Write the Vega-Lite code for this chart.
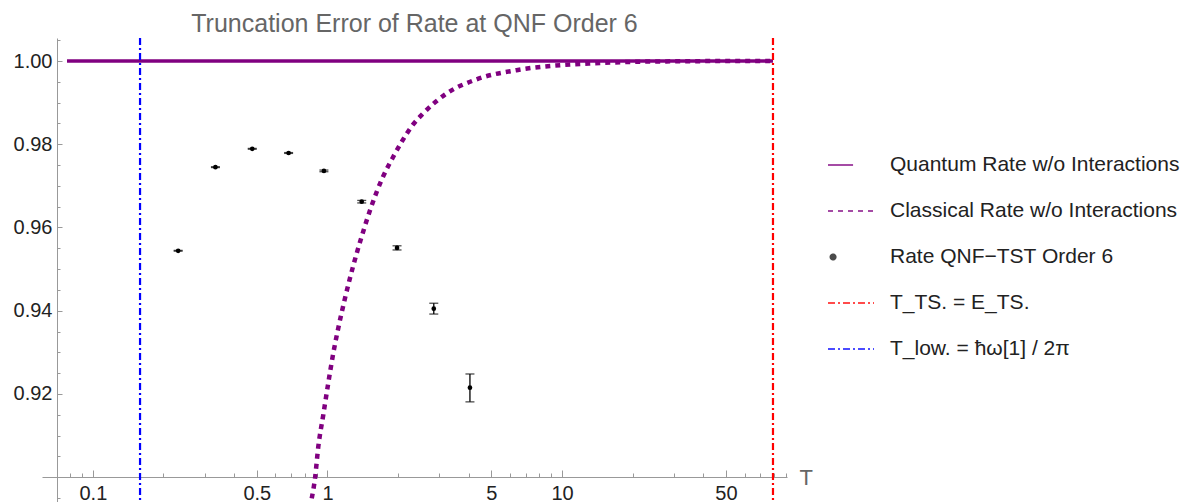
{
  "$schema": "https://vega.github.io/schema/vega-lite/v6.json",
  "width": 745,
  "height": 464,
  "autosize": "none",
  "padding": {"left": 42, "top": 38, "right": 395, "bottom": 0},
  "background": "white",
  "title": {"text": "Truncation Error of Rate at QNF Order 6", "fontSize": 25, "color": "#666666", "font": "Liberation Sans", "fontWeight": "normal", "anchor": "middle", "frame": "group", "offset": -20, "baseline": "alphabetic"},
  "config": {
    "font": "Liberation Sans",
    "view": {"stroke": null},
    "axis": {"grid": false, "domainColor": "#999999", "tickColor": "#999999", "labelColor": "#222222", "labelFont": "Liberation Sans", "labelFontSize": 20},
    "legend": {"orient": "none", "legendX": 785, "legendY": 103, "labelFontSize": 21, "labelFont": "Liberation Sans", "labelColor": "#222222", "symbolSize": 2116, "symbolStrokeWidth": 2, "labelOffset": 15, "rowPadding": 12, "symbolFillColor": "#000000", "labelLimit": 400, "padding": 0}
  },
  "data": {"values": [
    {"series": "Quantum Rate w/o Interactions", "T": 0.0776, "v": 1.0},
    {"series": "Quantum Rate w/o Interactions", "T": 79.3, "v": 1.0},
    {"series": "Classical Rate w/o Interactions", "T": 0.857, "v": 0.8949},
    {"series": "Classical Rate w/o Interactions", "T": 0.885, "v": 0.8997},
    {"series": "Classical Rate w/o Interactions", "T": 0.914, "v": 0.9073},
    {"series": "Classical Rate w/o Interactions", "T": 0.960, "v": 0.9150},
    {"series": "Classical Rate w/o Interactions", "T": 1.008, "v": 0.9226},
    {"series": "Classical Rate w/o Interactions", "T": 1.059, "v": 0.9298},
    {"series": "Classical Rate w/o Interactions", "T": 1.112, "v": 0.9358},
    {"series": "Classical Rate w/o Interactions", "T": 1.188, "v": 0.9430},
    {"series": "Classical Rate w/o Interactions", "T": 1.288, "v": 0.9508},
    {"series": "Classical Rate w/o Interactions", "T": 1.399, "v": 0.9578},
    {"series": "Classical Rate w/o Interactions", "T": 1.533, "v": 0.9648},
    {"series": "Classical Rate w/o Interactions", "T": 1.713, "v": 0.9718},
    {"series": "Classical Rate w/o Interactions", "T": 1.908, "v": 0.9770},
    {"series": "Classical Rate w/o Interactions", "T": 2.084, "v": 0.9808},
    {"series": "Classical Rate w/o Interactions", "T": 2.3, "v": 0.9845},
    {"series": "Classical Rate w/o Interactions", "T": 2.558, "v": 0.9874},
    {"series": "Classical Rate w/o Interactions", "T": 3.22, "v": 0.9922},
    {"series": "Classical Rate w/o Interactions", "T": 4.32, "v": 0.9956},
    {"series": "Classical Rate w/o Interactions", "T": 6.4, "v": 0.9978},
    {"series": "Classical Rate w/o Interactions", "T": 9.8, "v": 0.9990},
    {"series": "Classical Rate w/o Interactions", "T": 13.6, "v": 0.99945},
    {"series": "Classical Rate w/o Interactions", "T": 20, "v": 0.9998},
    {"series": "Classical Rate w/o Interactions", "T": 30, "v": 0.99993},
    {"series": "Classical Rate w/o Interactions", "T": 50, "v": 0.99999},
    {"series": "Classical Rate w/o Interactions", "T": 79.3, "v": 1.0},
    {"series": "Rate QNF−TST Order 6", "T": 0.231, "v": 0.9544, "lo": 0.9543, "hi": 0.9545},
    {"series": "Rate QNF−TST Order 6", "T": 0.333, "v": 0.9745, "lo": 0.9744, "hi": 0.9746},
    {"series": "Rate QNF−TST Order 6", "T": 0.478, "v": 0.9789, "lo": 0.9788, "hi": 0.9790},
    {"series": "Rate QNF−TST Order 6", "T": 0.683, "v": 0.9779, "lo": 0.9778, "hi": 0.9780},
    {"series": "Rate QNF−TST Order 6", "T": 0.966, "v": 0.9736, "lo": 0.9734, "hi": 0.9738},
    {"series": "Rate QNF−TST Order 6", "T": 1.40, "v": 0.9662, "lo": 0.9659, "hi": 0.9665},
    {"series": "Rate QNF−TST Order 6", "T": 1.98, "v": 0.9551, "lo": 0.9546, "hi": 0.9556},
    {"series": "Rate QNF−TST Order 6", "T": 2.84, "v": 0.9405, "lo": 0.9392, "hi": 0.9418},
    {"series": "Rate QNF−TST Order 6", "T": 4.05, "v": 0.9215, "lo": 0.9181, "hi": 0.9248},
    {"series": "T_TS. = E_TS.", "T": 79.3},
    {"series": "T_low. = ħω[1] / 2π", "T": 0.1589}
  ]},
  "resolve": {"axis": {"x": "independent", "y": "independent"}},
  "layer": [
    {
      "transform": [{"filter": "datum.series === 'Quantum Rate w/o Interactions'"}],
      "mark": {"type": "line"},
      "encoding": {
        "x": {"field": "T", "type": "quantitative", "scale": {"type": "log", "domain": [0.0607, 91], "nice": false, "zero": false},
              "axis": {"orient": "bottom", "offset": -25, "values": [0.1, 0.5, 1, 5, 10, 50], "format": "~g", "tickSize": -7, "labelPadding": 13, "labelFlush": false, "labelOverlap": false, "title": "T", "titleX": 757, "titleY": 7, "titleAlign": "left", "titleBaseline": "alphabetic", "titleFontSize": 22, "titleColor": "#666666", "titleFontWeight": "normal", "titleFont": "Liberation Sans"}},
        "y": {"field": "v", "type": "quantitative", "scale": {"domain": [0.89404, 1.00553], "nice": false, "zero": false},
              "axis": {"orient": "left", "offset": -15, "values": [0.92, 0.94, 0.96, 0.98, 1.0], "format": ".2f", "tickSize": -5, "labelPadding": 10, "title": null, "labelFlush": false, "labelOverlap": false}},
        "color": {"field": "series", "type": "nominal", "title": null,
                  "scale": {"domain": ["Quantum Rate w/o Interactions", "Classical Rate w/o Interactions", "Rate QNF−TST Order 6", "T_TS. = E_TS.", "T_low. = ħω[1] / 2π"], "range": ["#800080", "#800080", "#000000", "#ff0000", "#0000ff"]}},
        "strokeDash": {"field": "series", "type": "nominal", "title": null,
                  "scale": {"domain": ["Quantum Rate w/o Interactions", "Classical Rate w/o Interactions", "Rate QNF−TST Order 6", "T_TS. = E_TS.", "T_low. = ħω[1] / 2π"], "range": [[1, 0], [5, 5], [1, 0], [7, 3, 2, 3], [7, 3, 2, 3]]}},
        "strokeWidth": {"value": 3.5}
      }
    },
    {
      "transform": [{"filter": "datum.series === 'none'"}],
      "mark": {"type": "point", "filled": true},
      "encoding": {
        "x": {"field": "T", "type": "quantitative", "axis": null},
        "y": {"field": "v", "type": "quantitative", "axis": null},
        "color": {"field": "series", "type": "nominal", "title": null},
        "shape": {"field": "series", "type": "nominal", "title": null,
                  "scale": {"domain": ["Quantum Rate w/o Interactions", "Classical Rate w/o Interactions", "Rate QNF−TST Order 6", "T_TS. = E_TS.", "T_low. = ħω[1] / 2π"], "range": ["M -1 0 L 0.09 0", "stroke", "M -0.89 0 A 0.11 0.11 0 1 0 -0.67 0 A 0.11 0.11 0 1 0 -0.89 0 Z", "stroke", "stroke"]}}
      }
    },
    {
      "transform": [{"filter": "datum.series === 'Classical Rate w/o Interactions'"}],
      "mark": {"type": "line", "interpolate": "monotone"},
      "encoding": {
        "x": {"field": "T", "type": "quantitative",
              "axis": {"orient": "bottom", "offset": -25, "values": [0.07, 0.08, 0.09, 0.2, 0.3, 0.4, 0.6, 0.7, 0.8, 0.9, 2, 3, 4, 6, 7, 8, 9, 20, 30, 40, 60, 70, 80, 90], "labels": false, "domain": false, "tickSize": -4, "title": null}},
        "y": {"field": "v", "type": "quantitative",
              "axis": {"orient": "left", "offset": -15, "values": [0.895, 0.9, 0.905, 0.91, 0.915, 0.925, 0.93, 0.935, 0.945, 0.95, 0.955, 0.965, 0.97, 0.975, 0.985, 0.99, 0.995, 1.005], "labels": false, "domain": false, "tickSize": -3, "title": null}},
        "color": {"field": "series", "type": "nominal", "title": null},
        "strokeDash": {"field": "series", "type": "nominal", "title": null},
        "strokeWidth": {"value": 4.5}
      }
    },
    {
      "transform": [{"filter": "datum.series === 'Rate QNF−TST Order 6'"}],
      "mark": {"type": "rule", "color": "#000000", "strokeWidth": 1.3},
      "encoding": {
        "x": {"field": "T", "type": "quantitative", "axis": null},
        "y": {"field": "lo", "type": "quantitative", "axis": null},
        "y2": {"field": "hi"}
      }
    },
    {
      "transform": [{"filter": "datum.series === 'Rate QNF−TST Order 6'"}],
      "mark": {"type": "tick", "orient": "horizontal", "color": "#000000", "size": 9, "thickness": 1.3},
      "encoding": {
        "x": {"field": "T", "type": "quantitative", "axis": null},
        "y": {"field": "lo", "type": "quantitative", "axis": null}
      }
    },
    {
      "transform": [{"filter": "datum.series === 'Rate QNF−TST Order 6'"}],
      "mark": {"type": "tick", "orient": "horizontal", "color": "#000000", "size": 9, "thickness": 1.3},
      "encoding": {
        "x": {"field": "T", "type": "quantitative", "axis": null},
        "y": {"field": "hi", "type": "quantitative", "axis": null}
      }
    },
    {
      "transform": [{"filter": "datum.series === 'Rate QNF−TST Order 6'"}],
      "mark": {"type": "point", "filled": true, "shape": "circle", "size": 22, "color": "#000000", "opacity": 1},
      "encoding": {
        "x": {"field": "T", "type": "quantitative", "axis": null},
        "y": {"field": "v", "type": "quantitative", "axis": null}
      }
    },
    {
      "transform": [{"filter": "datum.series === 'T_TS. = E_TS.' || datum.series === 'T_low. = ħω[1] / 2π'"}],
      "mark": {"type": "rule"},
      "encoding": {
        "x": {"field": "T", "type": "quantitative", "axis": null},
        "color": {"field": "series", "type": "nominal", "title": null},
        "strokeDash": {"field": "series", "type": "nominal", "title": null},
        "strokeWidth": {"value": 2.2}
      }
    }
  ]
}
